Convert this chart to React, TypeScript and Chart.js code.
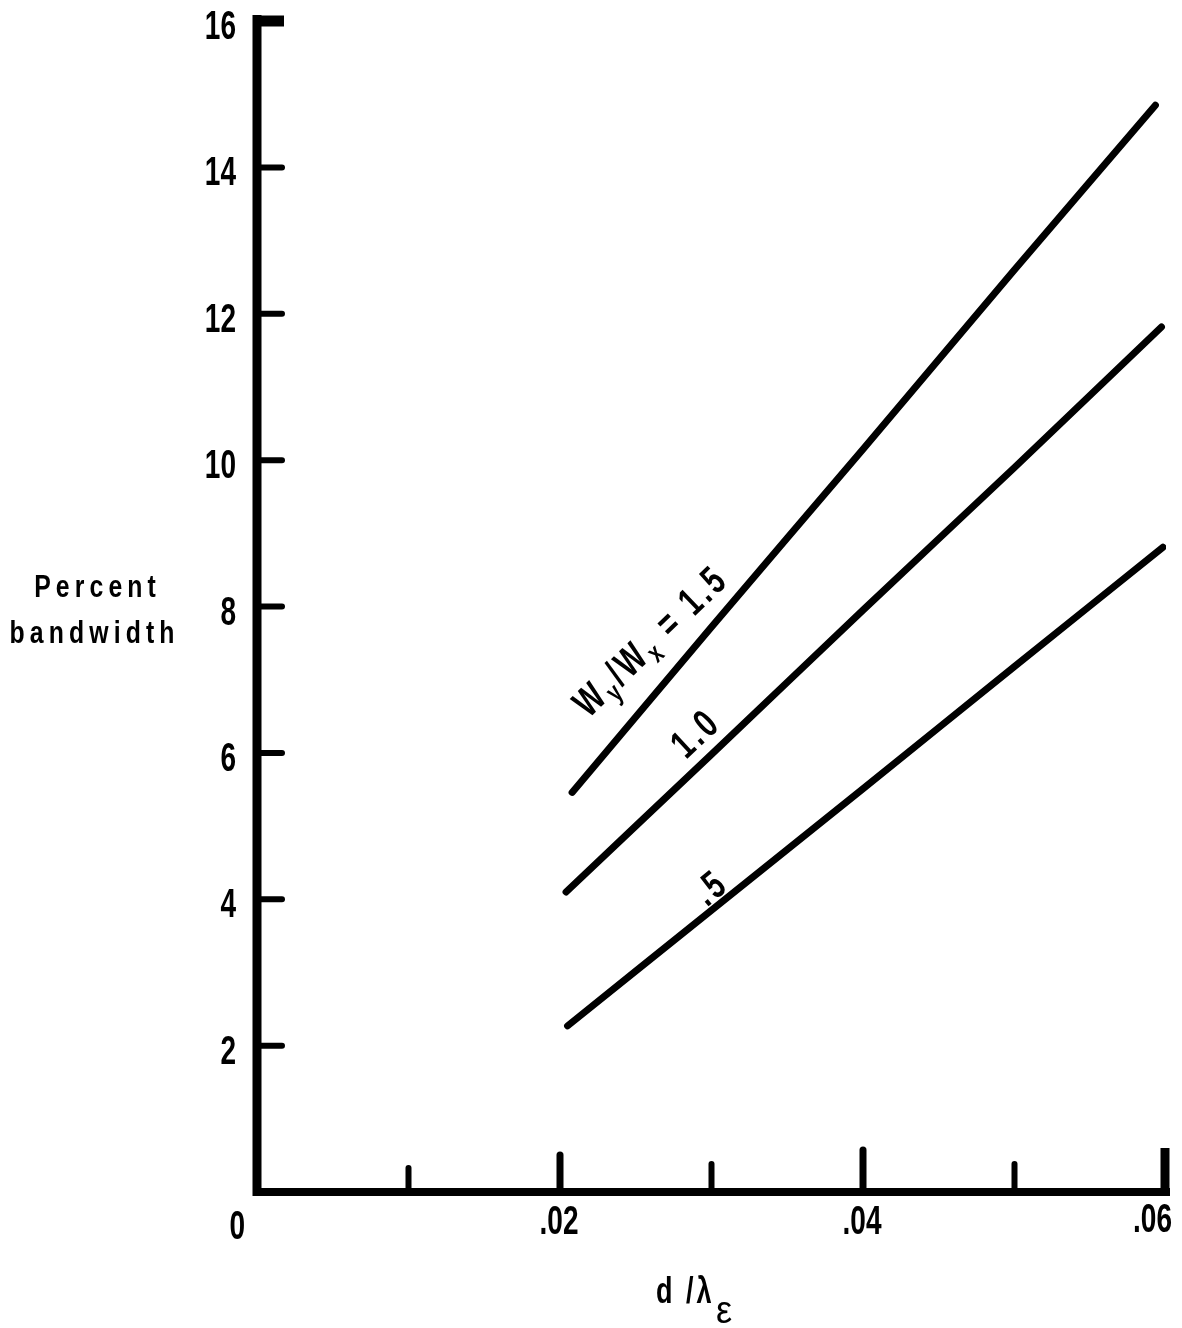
import { useEffect, useRef } from 'react';
import { Chart, registerables } from 'chart.js';

Chart.register(...registerables);

// ---- data ----
const xRatio15 = [0.0208, 0.03, 0.04, 0.05, 0.0593];
const yRatio15 = [5.46, 7.72, 10.15, 12.6, 14.85];
const xRatio10 = [0.0204, 0.03, 0.04, 0.05, 0.0597];
const yRatio10 = [4.1, 5.98, 7.95, 9.9, 11.82];
const xRatio05 = [0.0205, 0.03, 0.04, 0.05, 0.0598];
const yRatio05 = [2.27, 3.85, 5.51, 7.18, 8.81];

const yTickValues = [2, 4, 6, 8, 10, 12, 14, 16];
const yTickLabels = ['2', '4', '6', '8', '10', '12', '14', '16'];
const xTickValues = [0.01, 0.02, 0.03, 0.04, 0.05, 0.06];
const xLabelValues = [0, 0.02, 0.04, 0.06];
const xTickLabels = ['0', '.02', '.04', '.06'];

// curve label anchors (data units) and texts
const curveLabelX = [0.02594, 0.02891, 0.0299];
const curveLabelY = [7.54, 6.28, 4.17];
const curveLabelAngle = [-44, -43, -40];
type Run = { t: string; sub?: boolean };
const curveLabelRuns: Run[][] = [
  [{ t: 'W' }, { t: 'y', sub: true }, { t: '/W' }, { t: 'x', sub: true }, { t: ' = 1.5' }],
  [{ t: '1.0' }],
  [{ t: '.5' }],
];

const FONT = "'Liberation Sans', Arial, sans-serif";

const toPts = (xs: number[], ys: number[]) => xs.map((x, i) => ({ x, y: ys[i] }));

type TOpts = { size: number; bold?: boolean; sx?: number; align?: 'left' | 'center' | 'right'; spacing?: number };

function drawText(ctx: CanvasRenderingContext2D, text: string, x: number, y: number, o: TOpts) {
  const sx = o.sx ?? 1;
  const sp = o.spacing ?? 0;
  ctx.save();
  ctx.translate(x, y);
  ctx.scale(sx, 1);
  ctx.font = `${o.bold ? 'bold ' : ''}${o.size}px ${FONT}`;
  (ctx as any).letterSpacing = `${sp}px`;
  ctx.textAlign = 'left';
  ctx.textBaseline = 'alphabetic';
  const w = ctx.measureText(text).width - (sp > 0 ? sp : 0);
  const off = o.align === 'center' ? -w / 2 : o.align === 'right' ? -w : 0;
  ctx.fillText(text, off, 0);
  ctx.restore();
}

const axesPlugin = {
  id: 'axesPlugin',
  beforeDraw(chart: any) {
    const { ctx, width, height } = chart;
    ctx.save();
    ctx.fillStyle = '#fff';
    ctx.fillRect(0, 0, width, height);
    ctx.restore();
  },
  beforeDatasetsDraw(chart: any) {
    const { ctx } = chart;
    const xs = chart.scales.x;
    const ys = chart.scales.y;
    const x0 = xs.getPixelForValue(0);
    const y0 = ys.getPixelForValue(0);
    const xMax = xs.getPixelForValue(0.06);
    const yTop = ys.getPixelForValue(16);
    ctx.save();
    ctx.strokeStyle = '#000';
    ctx.lineCap = 'butt';
    // left axis
    ctx.lineWidth = 9;
    ctx.beginPath();
    ctx.moveTo(x0, yTop - 6);
    ctx.lineTo(x0, y0 + 4);
    ctx.stroke();
    // bottom axis
    ctx.lineWidth = 8;
    ctx.beginPath();
    ctx.moveTo(x0 - 4, y0);
    ctx.lineTo(xMax + 4, y0);
    ctx.stroke();
    // y ticks (inside)
    yTickValues.forEach((v) => {
      const py = ys.getPixelForValue(v);
      if (v === 16) {
        ctx.lineWidth = 11;
        ctx.lineCap = 'butt';
        ctx.beginPath();
        ctx.moveTo(x0 - 4, py);
        ctx.lineTo(x0 + 27, py);
        ctx.stroke();
      } else {
        ctx.lineWidth = 6;
        ctx.lineCap = 'round';
        ctx.beginPath();
        ctx.moveTo(x0, py);
        ctx.lineTo(x0 + 25, py);
        ctx.stroke();
      }
    });
    // x ticks (inside, pointing up)
    xTickValues.forEach((v, i) => {
      const px = xs.getPixelForValue(v);
      const major = i % 2 === 1;
      const last = i === xTickValues.length - 1;
      const len = last ? 44 : major ? (v > 0.03 ? 42 : 37) : v < 0.015 ? 24 : 28;
      ctx.lineWidth = last ? 9 : major ? 7 : 6;
      ctx.lineCap = last ? 'butt' : 'round';
      ctx.beginPath();
      ctx.moveTo(last ? px - 1 : px, y0);
      ctx.lineTo(last ? px - 1 : px, y0 - len);
      ctx.stroke();
    });
    ctx.restore();
  },
  afterDraw(chart: any) {
    const { ctx } = chart;
    const xs = chart.scales.x;
    const ys = chart.scales.y;
    const x0 = xs.getPixelForValue(0);
    const y0 = ys.getPixelForValue(0);
    ctx.save();
    ctx.fillStyle = '#000';
    const tickFont = { size: 40, bold: true, sx: 0.7 };
    // y tick labels
    yTickValues.forEach((v, i) => {
      drawText(ctx, yTickLabels[i], x0 - 21, ys.getPixelForValue(v) + 18, { ...tickFont, align: 'right' });
    });
    // x tick labels
    xLabelValues.forEach((v, i) => {
      const px = xs.getPixelForValue(v);
      if (i === 0) {
        drawText(ctx, xTickLabels[i], px - 12, y0 + 47, { ...tickFont, align: 'right' });
      } else if (i === xLabelValues.length - 1) {
        drawText(ctx, xTickLabels[i], px + 6, y0 + 40, { ...tickFont, align: 'right' });
      } else {
        drawText(ctx, xTickLabels[i], px - 1, y0 + 42, { ...tickFont, align: 'center' });
      }
    });
    // y axis title
    const titleFont = { size: 31, bold: true, sx: 0.8, spacing: 6.4, align: 'center' as const };
    drawText(ctx, 'Percent', 95, 597, titleFont);
    drawText(ctx, 'bandwidth', 92, 643, titleFont);
    // x axis title: d/λ with subscript ε
    drawText(ctx, 'd /λ', 656, 1303, { size: 36, bold: true, sx: 0.75, spacing: 4 });
    drawText(ctx, 'ε', 716, 1323, { size: 38, sx: 0.95 });

    // curve labels
    curveLabelRuns.forEach((runs, k) => {
      const cx = xs.getPixelForValue(curveLabelX[k]);
      const cy = ys.getPixelForValue(curveLabelY[k]);
      ctx.save();
      ctx.translate(cx, cy);
      ctx.rotate((curveLabelAngle[k] * Math.PI) / 180);
      const sx = 0.72;
      const sp = 5;
      const widths = runs.map((r) => {
        ctx.font = `bold ${r.sub ? 28 : 40}px ${FONT}`;
        (ctx as any).letterSpacing = `${sp}px`;
        return ctx.measureText(r.t).width * sx;
      });
      const total = widths.reduce((a, b) => a + b, 0);
      let pos = -total / 2;
      runs.forEach((r, j) => {
        drawText(ctx, r.t, pos, r.sub ? 22 : 14, { size: r.sub ? 28 : 40, bold: true, sx, spacing: sp });
        pos += widths[j];
      });
      ctx.restore();
    });
    ctx.restore();
  },
};

export default function App() {
  const ref = useRef<HTMLCanvasElement | null>(null);
  useEffect(() => {
    if (!ref.current) return;
    const lineStyle = {
      borderColor: '#000',
      borderWidth: 7,
      borderCapStyle: 'round' as const,
      borderJoinStyle: 'round' as const,
      pointRadius: 0,
      tension: 0.2,
      fill: false,
    };
    const chart = new Chart(ref.current, {
      type: 'line',
      data: {
        datasets: [
          { label: 'Wy/Wx = 1.5', data: toPts(xRatio15, yRatio15), ...lineStyle },
          { label: '1.0', data: toPts(xRatio10, yRatio10), ...lineStyle },
          { label: '.5', data: toPts(xRatio05, yRatio05), ...lineStyle },
        ],
      },
      options: {
        animation: false,
        responsive: false,
        devicePixelRatio: 1,
        layout: { padding: { left: 257, right: 16, top: 21, bottom: 136 } },
        scales: {
          x: { type: 'linear', min: 0, max: 0.06, display: false },
          y: { type: 'linear', min: 0, max: 16, display: false },
        },
        plugins: { legend: { display: false }, tooltip: { enabled: false } },
      },
      plugins: [axesPlugin],
    });
    return () => chart.destroy();
  }, []);
  return (
    <div style={{ position: 'fixed', left: 0, top: 0, width: 1182, height: 1328, background: '#fff' }}>
      <canvas ref={ref} width={1182} height={1328} />
    </div>
  );
}
